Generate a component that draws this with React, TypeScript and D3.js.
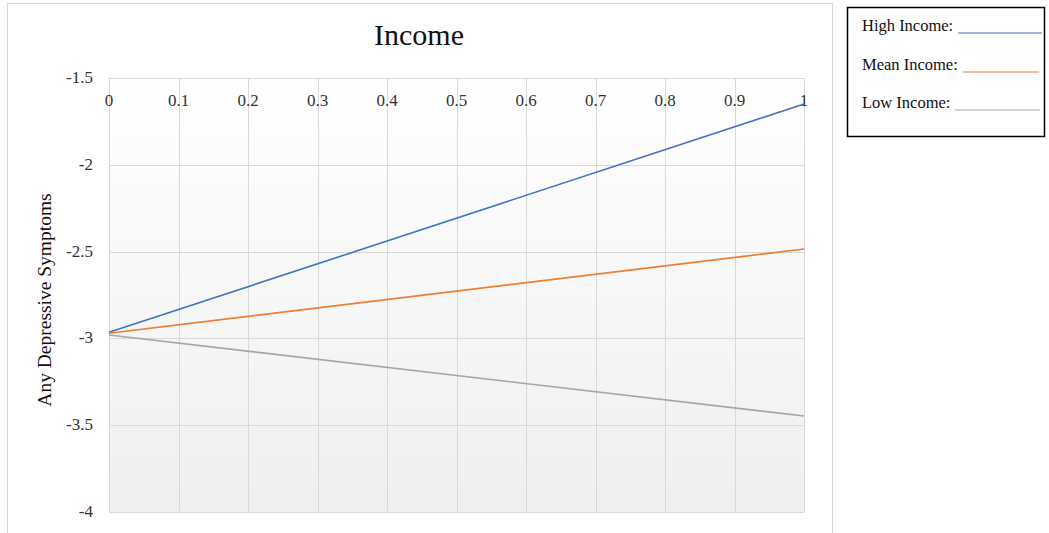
import React, { useEffect, useRef } from "react";
import * as d3 from "d3";

// x values of the two endpoints of each line
const xValues = [0, 1];
const highIncome = [-2.965, -1.65];
const meanIncome = [-2.97, -2.485];
const lowIncome = [-2.98, -3.447];

const xTicks = [0, 0.1, 0.2, 0.3, 0.4, 0.5, 0.6, 0.7, 0.8, 0.9, 1];
const yTicks = [-1.5, -2, -2.5, -3, -3.5, -4];

const seriesNames = ["High Income:", "Mean Income:", "Low Income:"];
const seriesColors = ["#4472c4", "#ed7d31", "#a5a5a5"];

const fmt = (d: number) => String(d); // keep the plain hyphen minus

const App: React.FC = () => {
  const svgRef = useRef<SVGSVGElement | null>(null);

  useEffect(() => {
    const width = 1049;
    const height = 533;
    const font = "'Liberation Serif', 'Times New Roman', serif";

    const svg = d3
      .select(svgRef.current)
      .attr("width", width)
      .attr("height", height)
      .attr("viewBox", `0 0 ${width} ${height}`);

    svg.selectAll("*").remove();

    const x = d3.scaleLinear().domain([0, 1]).range([109, 804]);
    const y = d3.scaleLinear().domain([-1.5, -4]).range([78, 512]);

    // chart frame
    svg
      .append("rect")
      .attr("x", 7.5)
      .attr("y", 3.5)
      .attr("width", 825)
      .attr("height", 545)
      .attr("fill", "#fff")
      .attr("stroke", "#d9d9d9");

    // plot area gradient
    const defs = svg.append("defs");
    const grad = defs
      .append("linearGradient")
      .attr("id", "plotBg")
      .attr("x1", 0)
      .attr("y1", 0)
      .attr("x2", 0)
      .attr("y2", 1);
    grad.append("stop").attr("offset", "0%").attr("stop-color", "#ffffff");
    grad.append("stop").attr("offset", "100%").attr("stop-color", "#efefef");

    svg
      .append("rect")
      .attr("x", x(0))
      .attr("y", y(-1.5))
      .attr("width", x(1) - x(0))
      .attr("height", y(-4) - y(-1.5))
      .attr("fill", "url(#plotBg)");

    // gridlines
    const grid = svg.append("g").attr("stroke", "#d9d9d9").attr("stroke-width", 1);
    xTicks.forEach((t) => {
      grid
        .append("line")
        .attr("x1", Math.round(x(t)) + 0.5)
        .attr("x2", Math.round(x(t)) + 0.5)
        .attr("y1", y(-1.5))
        .attr("y2", y(-4));
    });
    yTicks.forEach((t) => {
      grid
        .append("line")
        .attr("x1", x(0))
        .attr("x2", x(1))
        .attr("y1", Math.round(y(t)) + 0.5)
        .attr("y2", Math.round(y(t)) + 0.5);
    });

    // x tick labels (drawn just under the top of the plot)
    svg
      .append("g")
      .selectAll("text")
      .data(xTicks)
      .join("text")
      .attr("x", (d) => x(d))
      .attr("y", y(-1.5) + 28)
      .attr("text-anchor", "middle")
      .attr("font-family", font)
      .attr("font-size", 17)
      .attr("fill", "#333")
      .text((d) => fmt(d));

    // y tick labels
    svg
      .append("g")
      .selectAll("text")
      .data(yTicks)
      .join("text")
      .attr("x", 93)
      .attr("y", (d) => y(d) + 5)
      .attr("text-anchor", "end")
      .attr("font-family", font)
      .attr("font-size", 17)
      .attr("fill", "#333")
      .text((d) => fmt(d));

    // lines
    const line = d3
      .line<number>()
      .x((_, i) => x(xValues[i]))
      .y((d) => y(d));

    [highIncome, meanIncome, lowIncome].forEach((s, i) => {
      svg
        .append("path")
        .datum(s)
        .attr("fill", "none")
        .attr("stroke", seriesColors[i])
        .attr("stroke-width", 1.6)
        .attr("d", line);
    });

    // title
    svg
      .append("text")
      .attr("x", 419)
      .attr("y", 45)
      .attr("text-anchor", "middle")
      .attr("font-family", font)
      .attr("font-size", 30)
      .attr("fill", "#111")
      .text("Income");

    // y axis title
    svg
      .append("text")
      .attr("transform", `translate(51, 300) rotate(-90)`)
      .attr("text-anchor", "middle")
      .attr("font-family", font)
      .attr("font-size", 19.5)
      .attr("fill", "#111")
      .text("Any Depressive Symptoms");

    // legend box
    const legend = svg.append("g");
    legend
      .append("rect")
      .attr("x", 847.5)
      .attr("y", 7.5)
      .attr("width", 197)
      .attr("height", 129)
      .attr("fill", "#fff")
      .attr("stroke", "#000")
      .attr("stroke-width", 1.5);

    const legendRows = [
      { y: 31, x1: 958, x2: 1042 },
      { y: 70, x1: 963, x2: 1039 },
      { y: 108, x1: 955, x2: 1040 },
    ];
    seriesNames.forEach((name, i) => {
      const r = legendRows[i];
      legend
        .append("text")
        .attr("x", 862)
        .attr("y", r.y)
        .attr("font-family", font)
        .attr("font-size", 16.5)
        .attr("fill", "#111")
        .text(name);
      legend
        .append("line")
        .attr("x1", r.x1)
        .attr("x2", r.x2)
        .attr("y1", r.y + 2)
        .attr("y2", r.y + 2)
        .attr("stroke", seriesColors[i])
        .attr("stroke-width", 1.2);
    });
  }, []);

  return (
    <svg
      ref={svgRef}
      style={{ position: "absolute", left: 0, top: 0, display: "block" }}
    ></svg>
  );
};

export default App;
